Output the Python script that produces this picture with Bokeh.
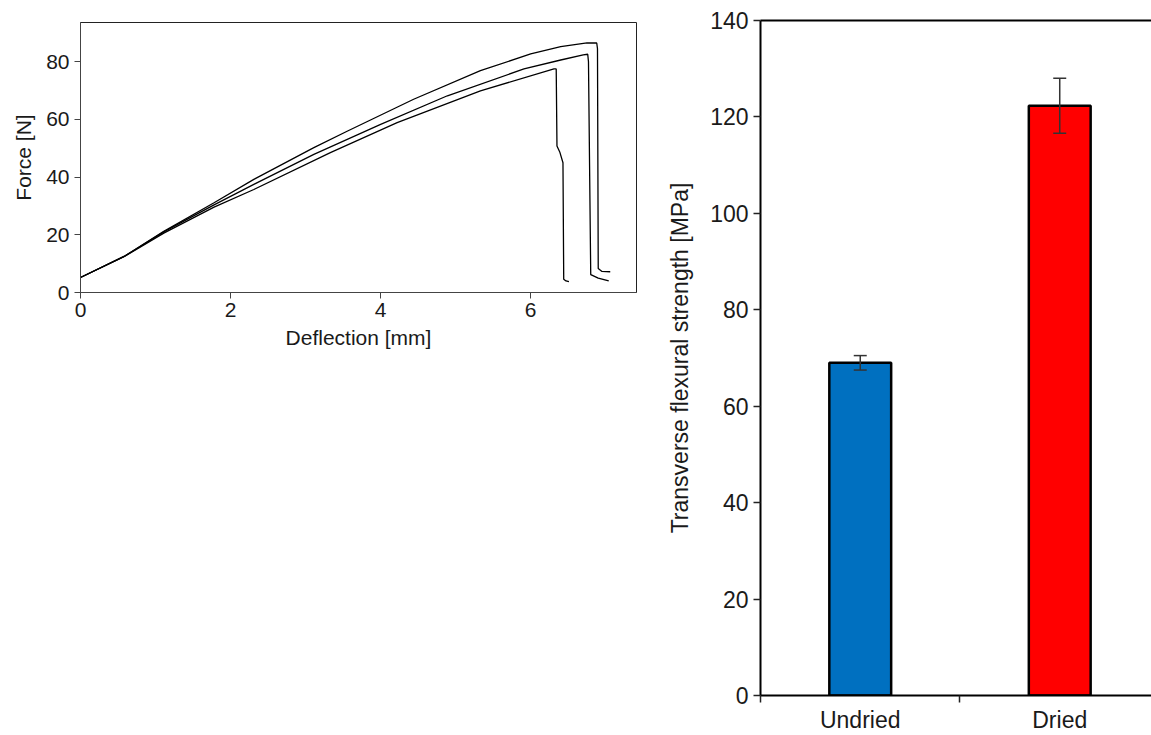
from bokeh.plotting import figure
from bokeh.layouts import row, column
from bokeh.models import Range1d, FixedTicker, LinearAxis, Whisker, ColumnDataSource, Spacer, TeeHead
from bokeh.embed import file_html
from bokeh.resources import INLINE

# ---------------- data: force-deflection curves ----------------
defl_a = [0, 0.58, 1.11, 1.78, 2.31, 3.11, 3.56, 4.44, 5.33, 6.0, 6.4, 6.75, 6.88, 6.89, 6.9, 6.95, 7.06]
force_a = [5.2, 12.5, 21.2, 31.1, 39.2, 50.2, 56.0, 67.0, 76.9, 82.7, 85.2, 86.5, 86.5, 84.5, 8.3, 7.3, 7.2]

defl_b = [0, 0.58, 1.11, 1.78, 2.31, 3.11, 4.0, 4.89, 5.91, 6.4, 6.7, 6.76, 6.77, 6.8, 6.9, 7.04]
force_b = [5.2, 12.5, 21.0, 30.4, 37.5, 47.9, 58.3, 68.2, 77.5, 80.6, 82.4, 82.6, 80.0, 6.2, 5.0, 4.0]

defl_c = [0, 0.58, 1.11, 1.78, 2.31, 3.33, 4.22, 5.33, 6.31, 6.34, 6.35, 6.39, 6.43, 6.44, 6.47, 6.51]
force_c = [5.2, 12.4, 20.6, 29.6, 35.7, 48.5, 58.9, 69.9, 77.5, 77.5, 50.8, 48.5, 45.0, 4.6, 4.0, 3.8]

defl_ticks = [0, 2, 4, 6]
force_ticks = [0, 20, 40, 60, 80]

# ---------------- data: flexural strength ----------------
categories = ["Undried", "Dried"]
strength = [69.0, 122.3]
strength_err = [1.5, 5.7]
bar_colors = ["#0070C0", "#FF0000"]
strength_ticks = [0, 20, 40, 60, 80, 100, 120, 140]

FONT = "Liberation Sans"
TXT = "#1a1a1a"

# ---------------- left figure ----------------
p1 = figure(width=660, height=370, output_backend="svg", toolbar_location=None,
            x_range=Range1d(0, 7.41), y_range=Range1d(0, 93.6),
            min_border_left=80, min_border_right=24, min_border_top=22, min_border_bottom=78)
for xs, ys in [(defl_a, force_a), (defl_b, force_b), (defl_c, force_c)]:
    p1.line(xs, ys, line_color="black", line_width=1.3)

p1.xgrid.visible = False
p1.ygrid.visible = False
p1.outline_line_color = "#222222"
p1.outline_line_width = 1
p1.background_fill_color = "white"
p1.border_fill_color = "white"

p1.xaxis.ticker = FixedTicker(ticks=defl_ticks)
p1.yaxis.ticker = FixedTicker(ticks=force_ticks)
p1.xaxis.axis_label = "Deflection [mm]"
p1.yaxis.axis_label = "Force [N]"
for ax in [p1.xaxis[0], p1.yaxis[0]]:
    ax.axis_line_color = "#444444"
    ax.major_tick_line_color = "#444444"
    ax.major_tick_out = 6
    ax.major_tick_in = 0
    ax.minor_tick_out = 0
    ax.minor_tick_in = 0
    ax.major_label_text_font = FONT
    ax.major_label_text_font_size = "21px"
    ax.major_label_text_color = TXT
    ax.axis_label_text_font = FONT
    ax.axis_label_text_font_size = "21px"
    ax.axis_label_text_font_style = "normal"
    ax.axis_label_text_color = TXT
p1.xaxis.major_label_standoff = 4
p1.xaxis.axis_label_standoff = 6
p1.yaxis.major_label_standoff = 5
p1.yaxis.axis_label_standoff = 8

# ---------------- right figure ----------------
xpos = [i + 0.5 for i in range(len(categories))]
src = ColumnDataSource(dict(
    x=xpos, top=strength, color=bar_colors,
    upper=[v + e for v, e in zip(strength, strength_err)],
    lower=[v - e for v, e in zip(strength, strength_err)],
))

p2 = figure(width=491, height=735, output_backend="svg", toolbar_location=None,
            x_range=Range1d(0, 1.96), y_range=Range1d(0, 140),
            min_border_left=100, min_border_right=0, min_border_top=20, min_border_bottom=40)
p2.vbar(x="x", top="top", width=0.31, fill_color="color", line_color="black", line_width=2.5, source=src)
p2.add_layout(Whisker(base="x", upper="upper", lower="lower", source=src, dimension="height",
                      line_color="#333333", line_width=1.5, level="overlay",
                      upper_head=TeeHead(size=13, line_color="#333333", line_width=1.5),
                      lower_head=TeeHead(size=13, line_color="#333333", line_width=1.5)))

p2.xgrid.visible = False
p2.ygrid.visible = False
p2.outline_line_color = None
p2.background_fill_color = "white"
p2.border_fill_color = "white"

p2.xaxis.ticker = FixedTicker(ticks=xpos, minor_ticks=[0, 1, 2])
p2.xaxis.major_label_overrides = {xp: c for xp, c in zip(xpos, categories)}
p2.xaxis.major_tick_out = 0
p2.xaxis.major_tick_in = 0
p2.xaxis.minor_tick_out = 7
p2.xaxis.minor_tick_in = 0
p2.xaxis.minor_tick_line_color = "#222222"
p2.xaxis.minor_tick_line_width = 1.5
p2.xaxis.major_label_standoff = 4

p2.yaxis.ticker = FixedTicker(ticks=strength_ticks, minor_ticks=[])
p2.yaxis.axis_label = "Transverse flexural strength [MPa]"
p2.yaxis.major_tick_out = 7
p2.yaxis.major_tick_in = 0
p2.yaxis.minor_tick_out = 0
p2.yaxis.minor_tick_in = 0
p2.yaxis.major_tick_line_width = 1.5
p2.yaxis.major_label_standoff = 5
p2.yaxis.axis_label_standoff = 14
for ax in [p2.xaxis[0], p2.yaxis[0]]:
    ax.axis_line_color = "black"
    ax.axis_line_width = 2
    ax.major_tick_line_color = "#222222"
    ax.major_label_text_font = FONT
    ax.major_label_text_font_size = "23px"
    ax.major_label_text_color = TXT
    ax.axis_label_text_font = FONT
    ax.axis_label_text_font_size = "23px"
    ax.axis_label_text_font_style = "normal"
    ax.axis_label_text_color = TXT

top_ax = LinearAxis(axis_line_color="black", axis_line_width=2,
                    major_tick_out=0, major_tick_in=0, minor_tick_out=0, minor_tick_in=0,
                    major_label_text_font_size="0px", ticker=FixedTicker(ticks=[]))
p2.add_layout(top_ax, "above")

layout = row(column(p1, Spacer(width=660, height=365)), p2)
open("out.html", "w").write(file_html(layout, INLINE))
